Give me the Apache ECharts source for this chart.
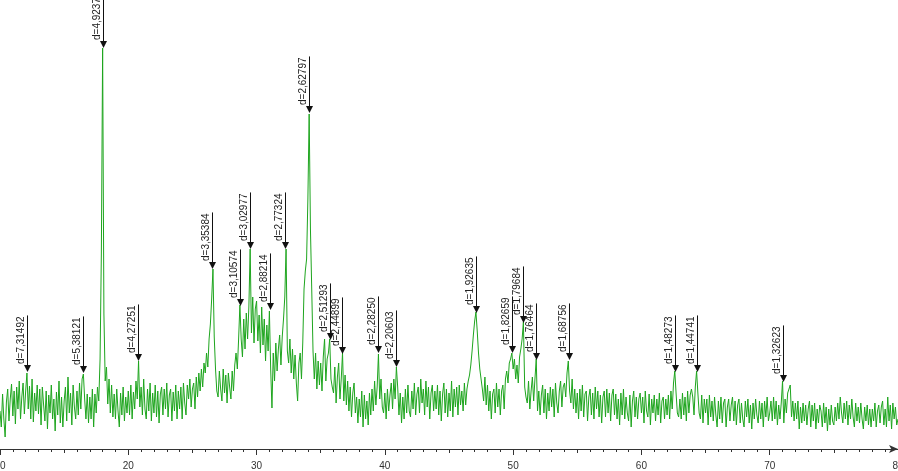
<!DOCTYPE html>
<html>
<head>
<meta charset="utf-8">
<script src="https://cdn.jsdelivr.net/npm/echarts@6/dist/echarts.min.js"></script>
<style>
html,body{margin:0;padding:0;background:#fff;}
#chart{width:898px;height:471px;}
</style>
</head>
<body>
<div id="chart"></div>
<script>
// 2-theta scan: start 10°, step 0.1°
const angleStart = 10;
const angleStep = 0.1;

const intensity10s = [
  38,22,55,30,12,47,60,28,50,65,
  33,58,25,62,40,68,30,52,66,35,
  58,76,40,63,30,70,27,56,38,64,
  35,60,24,62,44,28,58,20,54,36,
  64,30,50,18,57,34,68,26,52,22,
  48,62,28,72,36,56,24,64,42,30,
  58,34,66,40,70,75,50,30,55,26,
  52,30,60,22,55,36,62,48,90,195,
  401,135,68,82,45,70,36,64,32,55,
  30,60,38,22,56,34,62,28,52,36
];
const intensity20s = [
  58,34,64,30,57,40,68,50,88,42,
  62,34,70,40,30,60,38,66,28,56,
  36,64,32,58,26,55,62,34,60,40,
  66,32,54,60,28,57,38,64,30,58,
  40,62,30,66,46,34,64,50,70,42,
  60,66,40,72,52,76,58,80,62,86,
  76,96,82,110,125,150,180,112,80,58,
  52,78,60,48,80,56,74,46,76,62,
  50,78,58,84,96,80,110,144,110,92,
  130,100,136,110,142,200,116,152,106,140
];
const intensity30s = [
  148,108,134,96,142,104,130,88,124,98,
  138,80,41,96,68,106,78,100,114,84,
  112,130,152,200,98,86,110,76,100,70,
  94,66,48,86,96,70,106,160,178,190,
  250,335,220,160,98,70,96,60,88,64,
  86,58,92,110,68,90,96,110,70,62,
  56,82,46,72,86,50,70,96,48,74,
  44,68,38,62,32,56,66,36,52,26,
  50,32,58,22,54,30,48,24,56,34,
  60,38,68,44,62,95,50,70,42,36
];
const intensity40s = [
  56,30,60,38,54,66,40,70,50,82,
  62,34,56,26,52,30,60,36,64,38,
  32,58,40,66,34,55,62,36,70,46,
  60,34,68,42,62,30,56,64,38,58,
  40,64,34,58,28,55,66,36,60,32,
  56,38,68,32,60,42,62,34,64,44,
  58,38,66,44,60,68,74,84,98,114,
  128,137,118,96,80,70,60,48,72,44,
  64,38,58,30,55,60,36,66,42,60,
  34,58,64,40,70,78,66,86,90,96
];
const intensity50s = [
  80,90,70,84,66,92,100,110,127,62,
  52,46,68,40,58,72,48,70,90,38,
  58,34,54,64,36,60,30,56,38,62,
  42,60,32,66,46,36,58,68,42,62,
  66,52,76,88,58,46,70,40,60,36,
  56,30,60,38,64,32,55,58,28,52,
  60,34,56,30,62,40,58,32,54,26,
  52,58,32,60,36,56,28,54,60,34,
  55,30,50,24,56,34,60,30,52,36,
  28,54,22,48,58,32,52,30,50,56
];
const intensity60s = [
  36,52,26,58,38,32,55,24,50,36,
  54,28,50,34,56,26,48,52,30,50,
  34,54,30,58,40,66,78,56,36,32,
  50,30,56,34,52,28,58,36,54,60,
  52,34,62,78,56,36,30,54,26,50,
  36,50,24,54,32,48,28,52,34,22,
  48,30,52,26,46,50,22,42,50,28,
  44,52,28,48,24,44,50,26,46,30,
  22,48,32,50,26,44,20,46,30,50,
  34,26,48,30,46,22,48,32,52,28
];
const intensity70s = [
  36,48,28,52,30,48,24,44,30,46,
  68,26,50,36,56,60,64,32,48,28,
  46,30,48,20,42,26,46,28,44,24,
  40,48,22,44,28,46,20,40,26,44,
  38,22,46,26,42,18,40,24,44,28,
  24,42,28,46,30,52,36,26,46,30,
  48,24,44,30,50,32,22,46,28,42,
  26,46,30,20,42,28,44,24,40,22,
  40,28,46,22,38,44,26,42,48,24,
  40,22,52,28,44,20,46,30,42,24,
  30
];

// Peak annotations
const peakAngles = [12.09,16.46,18.00,20.77,26.56,28.72,29.46,31.01,32.25,34.09,35.70,36.67,39.45,40.87,47.14,49.89,50.77,51.76,54.32,62.60,64.31,71.02];
const peakArrowLevels = [77,76,401,88,180,143,200,139,200,336,109,95,96,82,136,96,126,89,89,77,77,67];
const peakLabels = ['d=7,31492','d=5,38121','d=4,92377','d=4,27251','d=3,35384','d=3,10574','d=3,02977','d=2,88214','d=2,77324','d=2,62797','d=2,51293','d=2,44899','d=2,28250','d=2,20603','d=1,92635','d=1,82659','d=1,79684','d=1,76464','d=1,68756','d=1,48273','d=1,44741','d=1,32623'];

const xTickLabels = ['10','20','30','40','50','60','70','80'];

const intensity = [].concat(intensity10s, intensity20s, intensity30s, intensity40s, intensity50s, intensity60s, intensity70s);
const lineData = intensity.map((v, i) => [+(angleStart + i * angleStep).toFixed(1), v]);
const peakData = peakAngles.map((a, i) => [a, peakArrowLevels[i], peakLabels[i]]);

const chart = echarts.init(document.getElementById('chart'), null, {renderer: 'canvas'});
const FONT = '"Liberation Sans", Arial, sans-serif';

chart.setOption({
  animation: false,
  backgroundColor: '#ffffff',
  grid: {left: 0, right: 0, top: 0, bottom: 22, containLabel: false, outerBoundsMode: 'none'},
  xAxis: [{
    type: 'value', min: 10, max: 80, interval: 10,
    axisLine: {show: true, lineStyle: {color: '#333', width: 1}, symbol: ['none', 'arrow'], symbolSize: [6, 9], symbolOffset: [0, 0]},
    axisTick: {show: true, length: 6, lineStyle: {color: '#333'}},
    minorTick: {show: true, splitNumber: 10, length: 3, lineStyle: {color: '#333'}},
    splitLine: {show: false},
    axisLabel: {
      show: true, color: '#333', fontSize: 10, fontFamily: FONT, margin: 12,
      formatter: v => xTickLabels.indexOf(String(v)) >= 0 ? String(v) : ''
    }
  }, {
    type: 'value', min: 10, max: 80, interval: 5, position: 'bottom',
    axisLine: {show: false}, axisLabel: {show: false}, splitLine: {show: false},
    axisTick: {show: true, length: 4, lineStyle: {color: '#333'}}
  }],
  yAxis: {type: 'value', min: 0, max: 449, show: false},
  series: [{
    type: 'line',
    data: lineData,
    showSymbol: false,
    symbol: 'none',
    sampling: null,
    lineStyle: {color: '#1ea51e', width: 1},
    z: 2
  }, {
    type: 'custom',
    data: peakData,
    clip: false,
    z: 5,
    renderItem: function (params, api) {
      const p = api.coord([api.value(0), api.value(1)]);
      const x = Math.round(p[0]) + 0.5;
      const y = p[1];
      const label = peakLabels[params.dataIndex];
      const tw = echarts.format.getTextRect ? echarts.format.getTextRect(label, '10px ' + FONT).width : 47;
      const textBottom = y - 8;
      return {
        type: 'group',
        children: [{
          type: 'polygon',
          shape: {points: [[x - 3.5, y - 7], [x + 3.5, y - 7], [x, y]]},
          style: {fill: '#111'}
        }, {
          type: 'line',
          shape: {x1: x, y1: y - 6, x2: x, y2: textBottom - tw - 1},
          style: {stroke: '#111', lineWidth: 1}
        }, {
          type: 'text',
          x: x - 1,
          y: textBottom,
          rotation: Math.PI / 2,
          style: {
            text: label,
            x: 0, y: 0,
            fill: '#222',
            font: '10px ' + FONT,
            align: 'left',
            verticalAlign: 'bottom'
          }
        }]
      };
    }
  }]
});
</script>
</body>
</html>
